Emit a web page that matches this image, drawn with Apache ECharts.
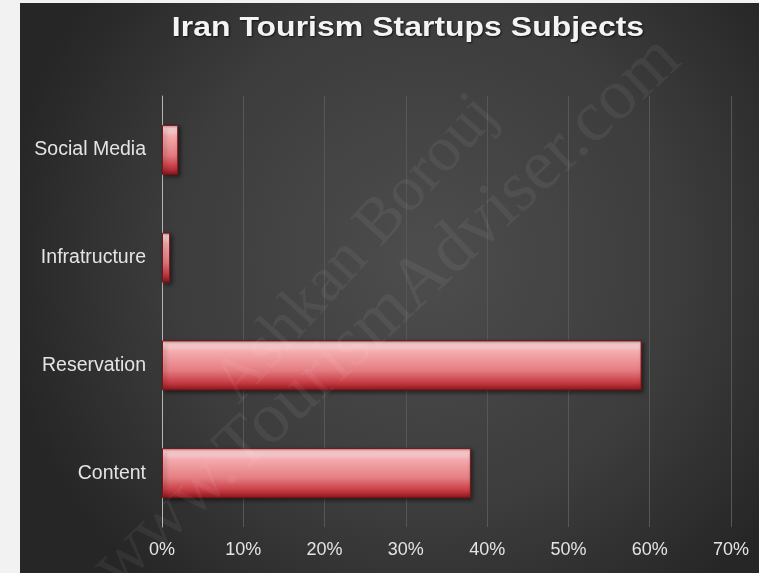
<!DOCTYPE html>
<html><head><meta charset="utf-8">
<script src="https://cdn.jsdelivr.net/npm/echarts@6/dist/echarts.min.js"></script>
<style>html,body{margin:0;padding:0;background:#f2f2f2}#c{width:759px;height:573px}</style>
</head><body><div id="c"></div>
<script>
const categories = ['Content', 'Reservation', 'Infratructure', 'Social Media'];
const values = [38, 59, 1, 2];
const xTicks = { min: 0, max: 70, interval: 10 };
const titleText = 'Iran Tourism Startups Subjects';
const watermark1 = 'Ashkan Borouj';
const watermark2 = 'www.TourismAdviser.com';

const chart = echarts.init(document.getElementById('c'), null, { renderer: 'canvas' });
const barGrad = new echarts.graphic.LinearGradient(0, 0, 0, 1, [
  { offset: 0, color: '#d98a8d' },
  { offset: 0.07, color: '#fcd9da' },
  { offset: 0.22, color: '#f4acae' },
  { offset: 0.6, color: '#e47d82' },
  { offset: 0.85, color: '#c63a42' },
  { offset: 1, color: '#8a161d' }
]);
chart.setOption({
  backgroundColor: '#f2f2f2',
  animation: false,
  graphic: [
    { type: 'rect', z: -10, shape: { x: 20, y: 3, width: 739, height: 570 },
      style: { fill: new echarts.graphic.RadialGradient(0.55, 0.45, 0.75, [
        { offset: 0, color: '#4d4d4d' }, { offset: 0.6, color: '#3c3c3c' }, { offset: 1, color: '#262626' }]) } },
    { type: 'text', z: 100, x: 408, y: 28, scaleX: 1.185, scaleY: 1.04,
      style: { text: titleText, font: 'bold 27px "Liberation Sans", Arial, sans-serif', fill: '#f4f4f4',
        textAlign: 'center', textVerticalAlign: 'middle', verticalAlign: 'middle',
        textShadowColor: 'rgba(0,0,0,0.7)', textShadowBlur: 2, textShadowOffsetX: 1, textShadowOffsetY: 1 } },
    { type: 'text', z: 100, x: 226, y: 394, rotation: 48 * Math.PI / 180,
      style: { text: watermark1, font: '64px "Liberation Serif", "Times New Roman", serif', fill: 'rgba(255,255,255,0.06)', verticalAlign: 'middle', textVerticalAlign: 'middle' } },
    { type: 'text', z: 100, x: 104, y: 577, rotation: 43 * Math.PI / 180,
      style: { text: watermark2, font: '72px "Liberation Serif", "Times New Roman", serif', fill: 'rgba(255,255,255,0.06)', verticalAlign: 'middle', textVerticalAlign: 'middle' } }
  ],
  grid: { left: 162, right: 28, top: 96, bottom: 46, containLabel: false },
  xAxis: {
    type: 'value', min: xTicks.min, max: xTicks.max, interval: xTicks.interval,
    axisLine: { show: false }, axisTick: { show: false },
    axisLabel: { formatter: '{value}%', color: '#e4e4e4', fontSize: 18, margin: 14, fontFamily: 'Liberation Sans, Arial, sans-serif' },
    splitLine: { show: true, lineStyle: { color: '#575757', width: 1 } }
  },
  yAxis: {
    type: 'category', data: categories,
    axisLine: { show: true, lineStyle: { color: '#b5b5b5', width: 1 } },
    axisTick: { show: false },
    axisLabel: { color: '#e4e4e4', fontSize: 19.5, margin: 16, fontFamily: 'Liberation Sans, Arial, sans-serif' }
  },
  series: [{
    type: 'bar', data: values, barWidth: 50,
    itemStyle: { color: barGrad, borderColor: '#7a1418', borderWidth: 1,
      shadowColor: 'rgba(0,0,0,0.5)', shadowBlur: 4, shadowOffsetX: 2, shadowOffsetY: 2 }
  }]
});
</script></body></html>
